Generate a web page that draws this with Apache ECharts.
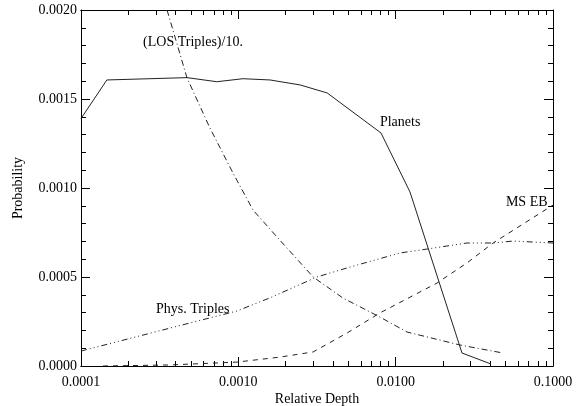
<!DOCTYPE html>
<html>
<head>
<meta charset="utf-8">
<script src="https://cdn.jsdelivr.net/npm/echarts@6/dist/echarts.min.js"></script>
<style>
  html, body { margin: 0; padding: 0; background: #fff; }
  #main { width: 578px; height: 406px; }
</style>
</head>
<body>
<div id="main"></div>
<script>
// depth values (x) and probabilities (y)
var planetsX = [0.0001, 0.000146, 0.000472, 0.00073, 0.00107, 0.00159, 0.00247, 0.00367, 0.00807, 0.01233, 0.0264, 0.0404];
var planetsY = [0.00139, 0.001607, 0.00162, 0.001597, 0.001614, 0.001607, 0.001579, 0.001534, 0.001309, 0.000978, 0.000073, 0.000011];

var losX = [0.0003, 0.000472, 0.00066, 0.000925, 0.00124, 0.00176, 0.00299, 0.00462, 0.00794, 0.0118, 0.0256, 0.0481];
var losY = [0.00221, 0.001618, 0.001337, 0.001084, 0.000876, 0.000725, 0.0005, 0.000382, 0.000275, 0.000191, 0.000118, 0.000073];

var physX = [0.0001, 0.000368, 0.00098, 0.00158, 0.00316, 0.00513, 0.01067, 0.0158, 0.0284, 0.0416, 0.0557, 0.1];
var physY = [0.000084, 0.000213, 0.000309, 0.000382, 0.0005, 0.000556, 0.000635, 0.000657, 0.000691, 0.000691, 0.000702, 0.000691];

var msebX = [0.000138, 0.000368, 0.00098, 0.00184, 0.00299, 0.0049, 0.00794, 0.0183, 0.0284, 0.0416, 0.089, 0.1];
var msebY = [0, 0.000006, 0.000022, 0.00005, 0.000079, 0.000185, 0.000298, 0.000466, 0.000579, 0.000691, 0.000876, 0.000904];

var minorDepths = [0.0002, 0.0003, 0.0004, 0.0005, 0.0006, 0.0007, 0.0008, 0.0009,
                   0.002, 0.003, 0.004, 0.005, 0.006, 0.007, 0.008, 0.009,
                   0.02, 0.03, 0.04, 0.05, 0.06, 0.07, 0.08, 0.09];

// curve labels: [text, depth, probability]
var curveLabels = {
  los: ['(LOS Triples)/10.', 0.000248, 0.00182],
  planets: ['Planets', 0.00794, 0.00137],
  mseb: ['MS EB', 0.0502, 0.000921],
  phys: ['Phys. Triples', 0.0003, 0.00032]
};

function pairs(xs, ys) {
  return xs.map(function (x, i) { return [x, ys[i]]; });
}

var FONT = 'Liberation Serif';
var INK = '#000';

function tag(lbl) {
  return {
    silent: true,
    symbol: 'circle',
    symbolSize: 0,
    data: [{
      coord: [lbl[1], lbl[2]],
      label: {
        show: true, position: 'right', distance: 0,
        formatter: lbl[0], color: INK, fontFamily: FONT, fontSize: 14
      }
    }]
  };
}

function line(name, data, dash, lbl) {
  return {
    name: name,
    type: 'line',
    xAxisIndex: 0,
    yAxisIndex: 0,
    data: data,
    showSymbol: false,
    symbol: 'none',
    clip: true,
    lineStyle: { color: '#222', width: 1, type: dash },
    markPoint: tag(lbl)
  };
}

function xAxisDef(pos, labels, tickLen, custom) {
  var ax = {
    type: 'log',
    logBase: 10,
    min: 0.0001,
    max: 0.1,
    position: pos,
    axisLine: { show: true, onZero: false, lineStyle: { color: INK, width: 1 } },
    axisTick: { show: true, inside: true, length: tickLen, lineStyle: { color: INK } },
    axisLabel: {
      show: labels, margin: 9, color: INK, fontFamily: FONT, fontSize: 14,
      formatter: function (v) { return Number(v).toFixed(4); }
    },
    splitLine: { show: false }
  };
  if (custom) ax.axisTick.customValues = custom;
  if (labels) {
    ax.name = 'Relative Depth';
    ax.nameLocation = 'middle';
    ax.nameGap = 26;
    ax.nameMoveOverlap = false;
    ax.nameTextStyle = { color: INK, fontFamily: FONT, fontSize: 14 };
  }
  return ax;
}

function yAxisDef(pos, labels) {
  var ax = {
    type: 'value',
    min: 0,
    max: 0.002,
    interval: 0.0005,
    position: pos,
    axisLine: { show: true, onZero: false, lineStyle: { color: INK, width: 1 } },
    axisTick: { show: true, inside: true, length: 9, lineStyle: { color: INK } },
    minorTick: { show: true, splitNumber: 5, length: 5, lineStyle: { color: INK } },
    axisLabel: {
      show: labels, margin: 4, color: INK, fontFamily: FONT, fontSize: 14,
      formatter: function (v) { return v.toFixed(4); }
    },
    splitLine: { show: false },
    minorSplitLine: { show: false }
  };
  if (labels) {
    ax.name = 'Probability';
    ax.nameLocation = 'middle';
    ax.nameGap = 56;
    ax.nameMoveOverlap = false;
    ax.nameTextStyle = { color: INK, fontFamily: FONT, fontSize: 14 };
  }
  return ax;
}

var chart = echarts.init(document.getElementById('main'), null, { renderer: 'canvas' });
chart.setOption({
  animation: false,
  backgroundColor: '#fff',
  grid: { left: 81, right: 25, top: 10, bottom: 40, containLabel: false, outerBoundsMode: 'none' },
  xAxis: [
    xAxisDef('bottom', true, 9, null),
    xAxisDef('bottom', false, 5, minorDepths),
    xAxisDef('top', false, 9, null),
    xAxisDef('top', false, 5, minorDepths)
  ],
  yAxis: [
    yAxisDef('left', true),
    yAxisDef('right', false)
  ],
  series: [
    line('Planets', pairs(planetsX, planetsY), 'solid', curveLabels.planets),
    line('LOS Triples/10', pairs(losX, losY), [6, 3, 1, 3], curveLabels.los),
    line('Phys. Triples', pairs(physX, physY), [6, 3, 1, 3, 1, 3, 1, 3], curveLabels.phys),
    line('MS EB', pairs(msebX, msebY), [5, 5], curveLabels.mseb)
  ]
});
</script>
</body>
</html>
